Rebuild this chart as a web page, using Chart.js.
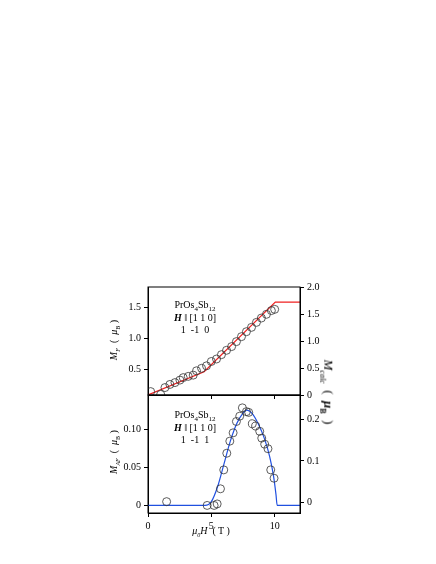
<!DOCTYPE html>
<html><head><meta charset="utf-8">
<script src="https://cdn.jsdelivr.net/npm/chart.js@4"></script>
<style>
body{margin:0;width:436px;height:564px;background:#fff;position:relative;font-family:"Liberation Serif",serif;overflow:hidden}
canvas{position:absolute;left:0;top:0}
.t{position:absolute;font-size:10px;color:#000;white-space:nowrap;line-height:1}
.c{text-align:center}
</style></head><body>
<div id="w1" style="position:absolute;left:0;top:0;width:436px;height:564px"><canvas id="c1"></canvas></div>
<div id="w2" style="position:absolute;left:0;top:0;width:436px;height:564px"><canvas id="c2"></canvas></div>
<div class="t c" style="left:150px;top:300px;width:90px">PrOs<sub style="font-size:7px">4</sub>Sb<sub style="font-size:7px">12</sub></div>
<div class="t c" style="left:150px;top:313px;width:90px"><b><i>H</i></b> ‖ [1 1 0]</div>
<div class="t c" style="left:150px;top:325px;width:90px">1 &nbsp;-1 &nbsp;0</div>
<div class="t c" style="left:150px;top:410px;width:90px">PrOs<sub style="font-size:7px">4</sub>Sb<sub style="font-size:7px">12</sub></div>
<div class="t c" style="left:150px;top:423px;width:90px"><b><i>H</i></b> ‖ [1 1 0]</div>
<div class="t c" style="left:150px;top:435px;width:90px">1 &nbsp;-1 &nbsp;1</div>
<div class="t" style="left:115px;top:340px;transform:translate(-50%,-50%) rotate(-90deg)"><i>M<sub style="font-size:6px">F</sub></i> &nbsp;( &nbsp;<i>μ</i><sub style="font-size:6px">B</sub> )</div>
<div class="t" style="left:115px;top:452px;transform:translate(-50%,-50%) rotate(-90deg)"><i>M<sub style="font-size:6px">AF</sub></i> &nbsp;( &nbsp;<i>μ</i><sub style="font-size:6px">B</sub> )</div>
<div class="t" style="left:327px;top:392px;font-size:13px;transform:translate(-50%,-50%) rotate(90deg)"><i>M<sub style="font-size:8px">calc</sub></i> &nbsp;( &nbsp;<b><i>μ</i><sub style="font-size:8px">B</sub></b> &nbsp;)</div>
<div class="t c" style="left:171px;top:526px;width:80px"><i>μ<sub style="font-size:6px">0</sub>H</i> &nbsp;( T )</div>
<script>
const fTop=[[0.21,0.145],[1.0,0.10],[1.34,0.21],[1.73,0.26],[2.13,0.29],[2.52,0.33],[2.78,0.37],[3.18,0.39],[3.57,0.41],[3.83,0.48],[4.23,0.52],[4.62,0.56],[5.0,0.63],[5.41,0.67],[5.8,0.74],[6.2,0.81],[6.6,0.87],[6.98,0.95],[7.38,1.03],[7.77,1.11],[8.17,1.18],[8.56,1.26],[8.95,1.33],[9.35,1.39],[9.74,1.45],[10.0,1.47]];
const calcTop=[[0,0],[4.43,0.43],[10.05,1.72],[12,1.72]];
const afBot=[[1.47,0.005],[4.67,0.0],[5.22,0.0],[5.46,0.002],[5.72,0.022],[5.98,0.047],[6.22,0.069],[6.46,0.085],[6.72,0.096],[6.98,0.111],[7.24,0.118],[7.45,0.129],[7.77,0.124],[7.95,0.123],[8.24,0.108],[8.5,0.105],[8.82,0.098],[8.98,0.089],[9.21,0.081],[9.47,0.075],[9.69,0.047],[9.95,0.036]];
const calcBot=[[0,0],[4.5,0],[5,0.005],[5.5,0.025],[6,0.055],[6.5,0.085],[7,0.108],[7.5,0.122],[7.8,0.126],[8.2,0.122],[8.7,0.108],[9.2,0.088],[9.6,0.065],[9.9,0.04],[10.1,0.015],[10.2,0],[12,0]];
const xTicks=[0,5,10];
const topLTicks=[0.5,1.0,1.5], topRTicks=[0,0.5,1.0,1.5,2.0];
const botLTicks=[0,0.05,0.10], botRTicks=[0,0.1,0.2];
const pts=a=>a.map(p=>({x:p[0],y:p[1]}));
const F={family:"Liberation Serif",size:10};
const fix=(t,w)=>({afterBuildTicks:a=>{a.ticks=t.map(v=>({value:v}));},afterFit:s=>{if(s.isHorizontal())s.height=w;else s.width=w;}});
function mk(id,top,bottom,lMin,lMax,rMin,rMax,lT,rT,lF,rF,showX,sets){
 return new Chart(document.getElementById(id),{type:'scatter',data:{datasets:sets},
 options:{responsive:true,maintainAspectRatio:false,animation:false,plugins:{legend:{display:false},tooltip:{enabled:false}},
 layout:{padding:{top:top,left:0,right:0,bottom:0}},
 scales:{
  x:{type:'linear',min:0,max:12,border:{color:'#000',width:1},grid:{drawOnChartArea:false,color:'#000',tickLength:4},
     ticks:{display:showX,font:F,color:'#000',callback:v=>String(v)},...fix(xTicks,564-bottom)},
  y:{position:'left',min:lMin,max:lMax,border:{color:'#000'},grid:{drawOnChartArea:false,color:'#000',tickLength:4},
     ticks:{font:F,color:'#000',callback:lF},...fix(lT,148)},
  y2:{position:'right',min:rMin,max:rMax,border:{color:'#000'},grid:{drawOnChartArea:false,color:'#000',tickLength:4},
     ticks:{font:F,color:'#000',callback:rF},...fix(rT,136)}
 }}});
}
const circ={type:'scatter',pointStyle:'circle',pointRadius:4,pointBorderWidth:0.8,pointBorderColor:'#333',pointBackgroundColor:'rgba(255,255,255,0)',showLine:false};
const boxTop={id:'bt',afterDraw(c){const a=c.chartArea,x=c.ctx;x.save();x.strokeStyle='#000';x.lineWidth=1;x.strokeRect(a.left,a.top,a.right-a.left,a.bottom-a.top);x.restore();}};
Chart.register(boxTop);
mk('c1',287,395,0.09,1.83,0,2.0,topLTicks,topRTicks,v=>v.toFixed(1),v=>v===0?'0':v.toFixed(1),false,[
 {...circ,data:pts(fTop),yAxisID:'y'},
 {type:'line',data:pts(calcTop),yAxisID:'y2',borderColor:'#f02020',borderWidth:1.2,pointRadius:0,tension:0}
]);
mk('c2',395,513,-0.010,0.146,-0.0245,0.258,botLTicks,botRTicks,v=>v===0?'0':v.toFixed(2),v=>v===0?'0':v.toFixed(1),true,[
 {...circ,data:pts(afBot),yAxisID:'y'},
 {type:'line',data:pts(calcBot),yAxisID:'y',borderColor:'#2050e0',borderWidth:1.2,pointRadius:0,cubicInterpolationMode:'monotone'}
]);
</script></body></html>
